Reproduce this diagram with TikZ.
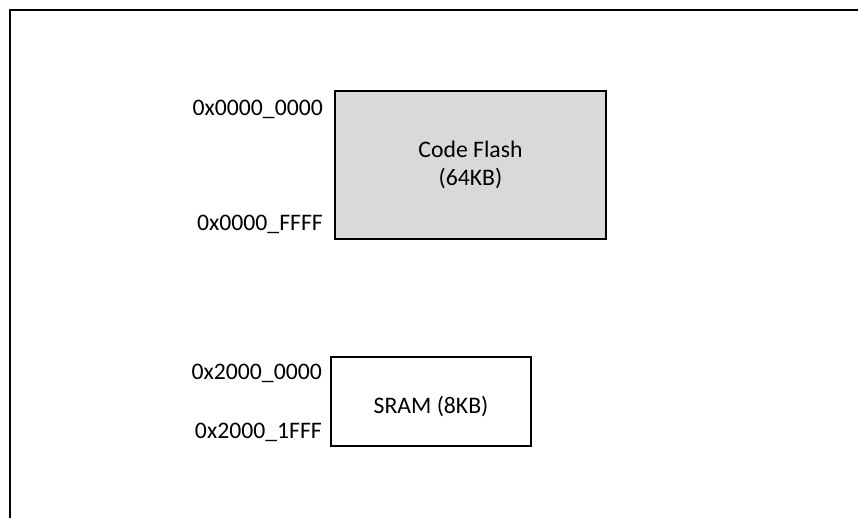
\documentclass[tikz,border=0pt]{standalone}
\usepackage{fontspec}
\setmainfont{Carlito}
\definecolor{flashgray}{HTML}{D9D9D9}
\begin{document}
\begin{tikzpicture}[x=1pt,y=-1pt,
  memblock/.style={draw=black,line width=2.2pt,inner sep=0pt},
  addr/.style={font=\fontsize{23.7}{28}\selectfont,inner sep=0pt,anchor=base east},
  blocktext/.style={font=\fontsize{23.7}{28}\selectfont,inner sep=0pt,anchor=base,align=center},
  frameline/.style={draw=black,line width=2pt}]
\useasboundingbox (0,0) rectangle (858,518);
% outer frame (top and left edges visible)
\coordinate (fbl) at (9.5,520);
\coordinate (ftl) at (9.5,10.5);
\coordinate (ftr) at (860,10.5);
\draw[frameline] (fbl) -- (ftl) -- (ftr);
% code flash
\filldraw[memblock,fill=flashgray] (335,91) rectangle (606,239);
\coordinate (flashbox) at (470.5,165);
\node[blocktext] (flashname) at (470.5,158) {Code Flash};
\node[blocktext] (flashsize) at (470.5,185.5) {(64KB)};
% SRAM
\draw[memblock] (331,357) rectangle (531,446);
\node[blocktext] (sramname) at (431,413) {SRAM (8KB)};
% addresses
\node[addr] (a1) at (323,115.5) {0x0000\_0000};
\node[addr] (a2) at (323,231) {0x0000\_FFFF};
\node[addr] (a3) at (322,379) {0x2000\_0000};
\node[addr] (a4) at (322,438.5) {0x2000\_1FFF};
\end{tikzpicture}
\end{document}
